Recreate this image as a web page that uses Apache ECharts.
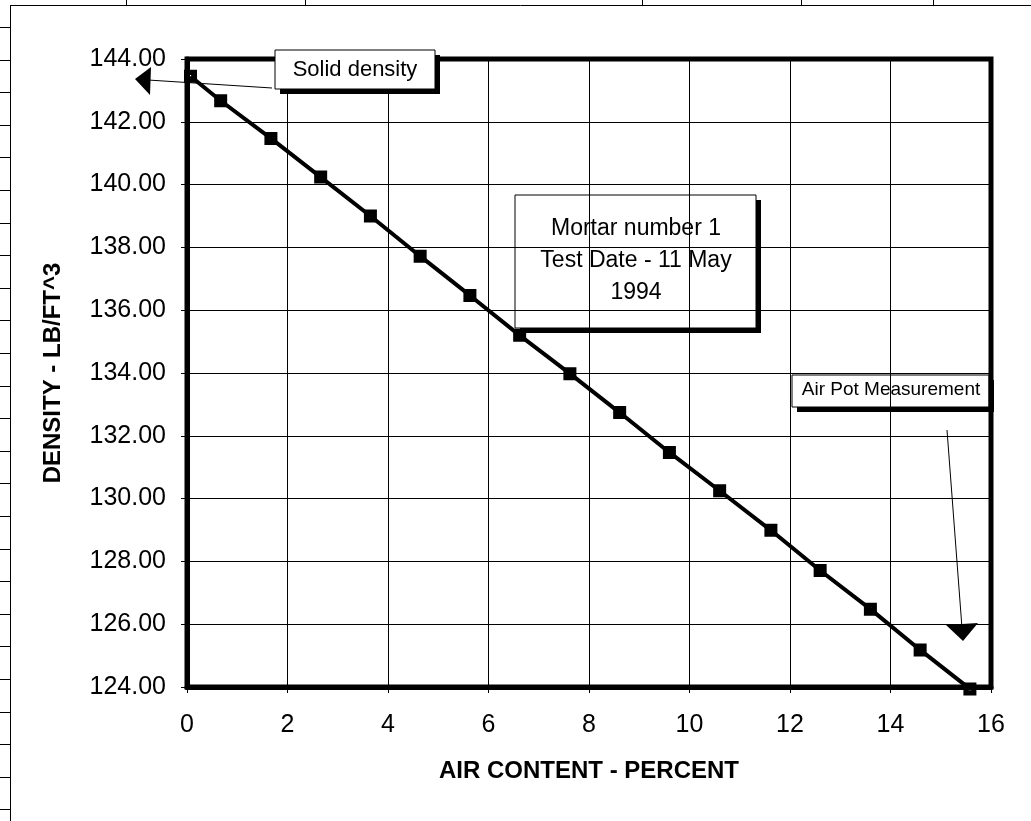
<!DOCTYPE html>
<html>
<head>
<meta charset="utf-8">
<title>Mortar number 1 - density vs air content</title>
<script src="https://cdn.jsdelivr.net/npm/echarts@6/dist/echarts.min.js"></script>
<style>
    html, body { margin: 0; padding: 0; background: #fff; }
    #chart { width: 1031px; height: 821px; }
</style>
</head>
<body>
<div id="chart"></div>
<script>
    // values
    var airContent = [0.07, 0.67, 1.67, 2.66, 3.65, 4.64, 5.63, 6.62, 7.62, 8.61, 9.6, 10.6, 11.62, 12.6, 13.6, 14.59, 15.58];
    var density = [143.45, 142.67, 141.47, 140.24, 139.0, 137.72, 136.47, 135.2, 133.98, 132.74, 131.47, 130.25, 128.99, 127.71, 126.48, 125.18, 123.94];
    var xTicks = { min: 0, max: 16, step: 2 };
    var yTicks = { min: 124, max: 144, step: 2 };
    var noteLines = ['Mortar number 1', 'Test Date - 11 May', '1994'];

    var font = '"Liberation Sans", Arial, sans-serif';

    var points = [];
    for (var i = 0; i < airContent.length; i++) {
        points.push([airContent[i], density[i]]);
    }

    // text box with the heavy bottom/right edge Excel draws
    function box(x, y, w, h, fill) {
        return [
            { type: 'rect', z: 10, shape: { x: x, y: y, width: w, height: h },
              style: { fill: fill, stroke: '#000', lineWidth: 1 } },
            { type: 'polyline', z: 10,
              shape: { points: [[x + 5, y + h + 2.5], [x + w + 2.5, y + h + 2.5], [x + w + 2.5, y + 5]] },
              style: { fill: null, stroke: '#000', lineWidth: 5 } }
        ];
    }

    function label(x, y, text, size, align) {
        return { type: 'text', z: 11, x: x, y: y,
                 style: { text: text, fill: '#000', font: size + 'px ' + font,
                          textAlign: align || 'center', textVerticalAlign: 'middle' } };
    }

    var graphic = [];
    // spreadsheet cell lines around the chart
    graphic.push({ type: 'line', shape: { x1: 10, y1: 5.5, x2: 1031, y2: 5.5 }, style: { stroke: '#000', lineWidth: 1 } });
    graphic.push({ type: 'line', shape: { x1: 10.5, y1: 5, x2: 10.5, y2: 821 }, style: { stroke: '#000', lineWidth: 1 } });
    [126, 305, 642, 801, 933].forEach(function (cx) {
        graphic.push({ type: 'line', shape: { x1: cx + 0.5, y1: 0, x2: cx + 0.5, y2: 5 }, style: { stroke: '#000', lineWidth: 1 } });
    });
    for (var r = 0; r < 25; r++) {
        var ry = Math.round(27 + r * 32.6) + 0.5;
        graphic.push({ type: 'line', shape: { x1: 0, y1: ry, x2: 10, y2: ry }, style: { stroke: '#000', lineWidth: 1 } });
    }

    // "Solid density" callout
    graphic = graphic.concat(box(275, 50, 160, 39, '#fff'));
    graphic.push(label(355, 70, 'Solid density', 22));
    graphic.push({ type: 'line', z: 10, shape: { x1: 272, y1: 88, x2: 148, y2: 80 }, style: { stroke: '#000', lineWidth: 1 } });
    graphic.push({ type: 'polygon', z: 10, shape: { points: [[135, 79], [151, 67], [150, 95]] }, style: { fill: '#000' } });

    // test note
    graphic = graphic.concat(box(515, 195, 241, 133, null));
    graphic.push(label(636, 229, noteLines[0], 23));
    graphic.push(label(636, 261, noteLines[1], 23));
    graphic.push(label(636, 293, noteLines[2], 23));

    // "Air Pot Measurement" callout
    graphic = graphic.concat(box(792, 375, 197, 32, null));
    graphic.push(label(891, 390, 'Air Pot Measurement', 19));
    graphic.push({ type: 'line', z: 10, shape: { x1: 947, y1: 430, x2: 962, y2: 628 }, style: { stroke: '#000', lineWidth: 1 } });
    graphic.push({ type: 'polygon', z: 10, shape: { points: [[946, 625], [978, 623], [963, 641]] }, style: { fill: '#000' } });

    var myChart = echarts.init(document.getElementById('chart'));

    var option = {
        backgroundColor: '#fff',
        animation: false,
        grid: {
            left: 187,
            right: 40,
            top: 59,
            bottom: 134,
            show: true,
            borderColor: '#000',
            borderWidth: 5
        },
        xAxis: {
            type: 'value',
            min: xTicks.min,
            max: xTicks.max,
            interval: xTicks.step,
            name: 'AIR CONTENT - PERCENT',
            nameLocation: 'middle',
            nameGap: 72,
            nameTextStyle: { color: '#000', fontFamily: font, fontWeight: 'bold', fontSize: 24 },
            axisLine: { show: true, lineStyle: { color: '#000', width: 5 } },
            axisTick: { show: true, length: 6, lineStyle: { color: '#000', width: 1 } },
            axisLabel: { color: '#000', fontFamily: font, fontSize: 25, margin: 26 },
            splitLine: { show: true, lineStyle: { color: '#000', width: 1 } }
        },
        yAxis: {
            type: 'value',
            min: yTicks.min,
            max: yTicks.max,
            interval: yTicks.step,
            name: 'DENSITY - LB/FT^3',
            nameLocation: 'middle',
            nameGap: 122,
            nameTextStyle: { color: '#000', fontFamily: font, fontWeight: 'bold', fontSize: 24 },
            axisLine: { show: true, lineStyle: { color: '#000', width: 5 } },
            axisTick: { show: true, length: 6, lineStyle: { color: '#000', width: 1 } },
            axisLabel: {
                color: '#000', fontFamily: font, fontSize: 25, margin: 21,
                formatter: function (v) { return v.toFixed(2); }
            },
            splitLine: { show: true, lineStyle: { color: '#000', width: 1 } }
        },
        series: [{
            type: 'line',
            data: points,
            clip: false,
            symbol: 'path://M0,0H10V10H0Z M4,4V6H6V4Z',
            symbolSize: 13,
            showAllSymbol: true,
            itemStyle: { color: '#000', borderWidth: 0 },
            lineStyle: { color: '#000', width: 4 },
            z: 5
        }],
        graphic: graphic
    };

    myChart.setOption(option);
</script>
</body>
</html>
